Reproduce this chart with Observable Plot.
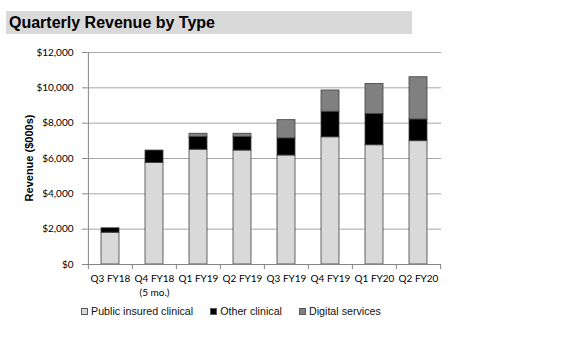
<!DOCTYPE html>
<html>
<head>
<meta charset="utf-8">
<script src="https://cdn.jsdelivr.net/npm/d3@7"></script>
<script src="https://cdn.jsdelivr.net/npm/@observablehq/plot@0.6"></script>
<style>
  html, body { margin: 0; padding: 0; background: #fff; }
  body { width: 578px; height: 337px; position: relative; overflow: hidden; }
  #title { position: absolute; left: 6px; top: 11px; width: 406px; height: 23px; background: #d9d9d9;
    font: bold 16px "Liberation Sans", Arial, sans-serif; color: #000; line-height: 23px; padding-left: 3px; box-sizing: border-box; }
  #chart { position: absolute; left: 0; top: 40px; }
  #ylabel { position: absolute; left: 29px; top: 158px; transform: translate(-50%, -50%) rotate(-90deg);
    font: bold 11px "Liberation Sans", Arial, sans-serif; white-space: nowrap; color: #000; }
  #legend { position: absolute; left: 81px; top: 305px; font: 10.7px "Liberation Sans", Arial, sans-serif; color: #111;
    display: flex; gap: 0; white-space: nowrap; }
  .item { display: flex; align-items: center; margin-right: 17px; }
  .sw { width: 5px; height: 5px; border: 1px solid #5a5a5a; margin-right: 3px; }
</style>
</head>
<body>
<div id="title">Quarterly Revenue by Type</div>
<div id="chart"></div>
<div id="ylabel">Revenue ($000s)</div>
<div id="legend"></div>
<script>
const quarters = ["Q3 FY18", "Q4 FY18\n(5 mo.)", "Q1 FY19", "Q2 FY19", "Q3 FY19", "Q4 FY19", "Q1 FY20", "Q2 FY20"];
const seriesNames = ["Public insured clinical", "Other clinical", "Digital services"];
const publicInsured = [1800, 5750, 6500, 6450, 6170, 7200, 6750, 6980];
const otherClinical = [250, 700, 720, 770, 970, 1450, 1770, 1230];
const digitalServices = [0, 0, 180, 180, 1030, 1200, 1700, 2390];
const yTicks = [0, 2000, 4000, 6000, 8000, 10000, 12000];
const colors = ["#d9d9d9", "#000000", "#808080"];

const seriesValues = [publicInsured, otherClinical, digitalServices];
const data = [];
seriesNames.forEach((s, si) => {
  quarters.forEach((q, qi) => {
    data.push({quarter: q, series: s, value: seriesValues[si][qi]});
  });
});

const W = 460, H = 260, mL = 87, mR = 19, mT = 12, mB = 36;
const step = (W - mL - mR) / quarters.length;
const plotH = H - mT - mB;
const axisColor = "#868686";

const chart = Plot.plot({
  width: W, height: H,
  marginLeft: mL, marginRight: mR, marginTop: mT, marginBottom: mB,
  style: {fontFamily: "Lato, sans-serif", fontSize: "10px", color: "#000", background: "transparent"},
  x: {domain: quarters, paddingInner: 0.59, paddingOuter: 0.295, label: null},
  y: {domain: [0, 12000], label: null},
  color: {domain: seriesNames, range: colors},
  marks: [
    Plot.gridY(yTicks.filter(d => d > 0), {stroke: "#a6a6a6", strokeOpacity: 1}),
    Plot.barY(data.filter(d => d.value > 0), Plot.stackY({
      x: "quarter", y: "value", fill: "series", stroke: "#404040", strokeWidth: 0.8
    })),
    Plot.ruleY([0], {stroke: axisColor}),
    Plot.ruleX([quarters[0]], {x: d => d, dx: -step / 2, stroke: axisColor, insetBottom: -5}),
    Plot.ruleX(quarters.slice(1), {x: d => d, dx: -step / 2, stroke: axisColor, insetTop: plotH, insetBottom: -5}),
    Plot.ruleX([quarters[quarters.length - 1]], {x: d => d, dx: step / 2, stroke: axisColor, insetTop: plotH, insetBottom: -5}),
    Plot.axisY({ticks: yTicks, tickFormat: d3.format("$,"), tickSize: 5, tickPadding: 9, stroke: axisColor, fill: "#000", label: null}),
    Plot.axisX({tickSize: 0, tickPadding: 8, lineHeight: 1.4, fill: "#000", label: null})
  ]
});
document.getElementById("chart").appendChild(chart);

const legend = document.getElementById("legend");
seriesNames.forEach((s, i) => {
  const item = document.createElement("div");
  item.className = "item";
  const sw = document.createElement("div");
  sw.className = "sw";
  sw.style.background = colors[i];
  item.appendChild(sw);
  const t = document.createElement("span");
  t.textContent = s;
  item.appendChild(t);
  legend.appendChild(item);
});
</script>
</body>
</html>
